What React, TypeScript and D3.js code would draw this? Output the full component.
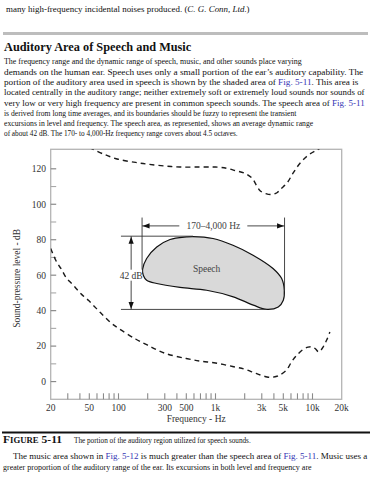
import * as d3 from "d3";

const SERIF = "'Liberation Serif', 'Times New Roman', serif";
const LINK = "#3434b4";

// ---- page text ----
const TOP_LINE = [
  { t: "many high-frequency incidental noises produced. (" },
  { t: "C. G. Conn, Ltd.", italic: true },
  { t: ")" },
];
const HEADING = "Auditory Area of Speech and Music";
const PARA_LINES = [
  [{ t: "The frequency range and the dynamic range of speech, music, and other sounds place varying" }],
  [{ t: "demands on the human ear. Speech uses only a small portion of the ear\u2019s auditory capability. The" }],
  [{ t: "portion of the auditory area used in speech is shown by the shaded area of " }, { t: "Fig. 5-11", link: true }, { t: ". This area is" }],
  [{ t: "located centrally in the auditory range; neither extremely soft or extremely loud sounds nor sounds of" }],
  [{ t: "very low or very high frequency are present in common speech sounds. The speech area of " }, { t: "Fig. 5-11", link: true }],
  [{ t: "is derived from long time averages, and its boundaries should be fuzzy to represent the transient" }],
  [{ t: "excursions in level and frequency. The speech area, as represented, shows an average dynamic range" }],
  [{ t: "of about 42 dB. The 170- to 4,000-Hz frequency range covers about 4.5 octaves." }],
];
const CAPTION_LABEL = [{ t: "F", size: 9.5 }, { t: "IGURE", size: 7.2 }, { t: " 5-11", size: 9.5 }];
const CAPTION_TEXT = "The portion of the auditory region utilized for speech sounds.";
const BOTTOM_LINES = [
  [{ t: "The music area shown in " }, { t: "Fig. 5-12", link: true }, { t: " is much greater than the speech area of " }, { t: "Fig. 5-11", link: true }, { t: ". Music uses a" }],
  [{ t: "greater proportion of the auditory range of the ear. Its excursions in both level and frequency are" }],
];

// ---- chart data ----
const Y_TICKS = [0, 20, 40, 60, 80, 100, 120];
const Y_MINOR = [10, 30, 50, 70, 90, 110];
const X_LABELS: [number, string][] = [
  [20, "20"], [50, "50"], [100, "100"], [300, "300"], [500, "500"],
  [1000, "1k"], [3000, "3k"], [5000, "5k"], [10000, "10k"], [20000, "20k"],
];
const X_TICKS = [30, 40, 50, 60, 70, 80, 90, 100, 200, 300, 400, 500, 600, 700, 800, 900, 1000,
  2000, 3000, 4000, 5000, 6000, 7000, 8000, 9000, 10000];

// threshold of feeling (upper dashed curve), [Hz, dB]
const UPPER_CURVE: [number, number][] = [
  [50, 132], [70, 128.3], [99, 125.4], [150, 123.6], [200, 122.6], [300, 121.6], [430, 121],
  [700, 121], [1000, 121], [1300, 120.3], [1600, 119], [2000, 117.5], [2400, 114.5],
  [2650, 110.5], [2900, 107.5], [3300, 106], [3800, 105.5], [4300, 106.5], [4700, 108.6],
  [5460, 112], [6300, 117.5], [7400, 123], [9000, 127.6], [10900, 130.4], [12500, 132],
];

// threshold of hearing (lower dashed curve), [Hz, dB]
const LOWER_CURVE: [number, number][] = [
  [20, 75], [23, 67.5], [26, 63], [29, 58.5], [34, 54.5], [39, 50.8], [44, 48], [49, 45.8],
  [55, 43], [64, 39.3], [72, 36.5], [85, 32.8], [100, 30], [150, 24], [200, 20.5], [300, 16],
  [500, 13], [700, 11.5], [1000, 10.5], [1500, 8.5], [2000, 7], [2500, 5], [2900, 3.7],
  [3400, 2.6], [3800, 2.4], [4300, 3], [4700, 4], [5400, 6.5], [6100, 11.2], [6900, 14.9],
  [8000, 18.1], [9000, 19.4], [9800, 19.6], [10700, 18.5], [11500, 16.8], [12100, 17.5],
  [12900, 19.6], [14000, 23.4], [15100, 28],
];

// speech area outline, [Hz, dB]
const SPEECH_AREA: [number, number][] = [
  [177, 63.2], [195, 69.4], [248, 75.9], [340, 80.1], [505, 81.6], [586, 81.8], [942, 80.7],
  [1514, 76.9], [2437, 71.3], [3917, 63.8], [4810, 58.1], [5118, 51.5], [5001, 45.9],
  [4437, 42.1], [3371, 40.7], [2454, 43.1], [1525, 47.8], [811, 51.5], [431, 53.1],
  [248, 55.3], [195, 57.2], [180, 60],
];
const SPEECH_FREQ = [175, 5150]; // drawn extent of the "170-4,000 Hz" bracket
const SPEECH_DB = [40.7, 82]; // drawn extent of the "42 dB" bracket
const SPEECH_TOP_HZ = 586;
const SPEECH_BOTTOM_HZ = 3371;
const BRACKET_HZ_ROW = 87.8; // dB level of the horizontal arrow
const BRACKET_DB_COL = 135; // Hz of the vertical arrow
const GUIDE_START_HZ = 106;
const GUIDE_TOP_DB = 92.5;

let ctx: CanvasRenderingContext2D | null = null;
function measure(parts: any[], size: number, weight: string) {
  if (!ctx) ctx = document.createElement("canvas").getContext("2d");
  if (!ctx) return 1;
  let w = 0;
  for (const p of parts) {
    ctx.font = `${p.italic ? "italic " : ""}${weight} ${p.size || size}px 'Liberation Serif'`;
    w += ctx.measureText(p.t).width;
  }
  return w || 1;
}

// a text line squeezed/stretched horizontally to the width it has on the page
function TextLine({ parts, x, y, len, size = 9, weight = "normal" }: any) {
  const sx = len / measure(parts, size, weight);
  return (
    <text transform={`translate(${x},${y}) scale(${sx},1)`} fontFamily={SERIF} fontSize={size}
      fontWeight={weight} fill="#111">
      {parts.map((p: any, i: number) => (
        <tspan key={i} fill={p.link ? LINK : "#111"} fontSize={p.size || size}
          fontStyle={p.italic ? "italic" : "normal"}>{p.t}</tspan>
      ))}
    </text>
  );
}

function arrowHead(px: number, py: number, dir: string) {
  const L = 7, w = 2.6;
  if (dir === "left") return `M${px},${py}L${px + L},${py - w}L${px + L},${py + w}Z`;
  if (dir === "right") return `M${px},${py}L${px - L},${py - w}L${px - L},${py + w}Z`;
  if (dir === "up") return `M${px},${py}L${px - w},${py + L}L${px + w},${py + L}Z`;
  return `M${px},${py}L${px - w},${py - L}L${px + w},${py - L}Z`;
}

export default function App() {
  const plot = { left: 50.7, right: 341.7, top: 149.3, bottom: 399.3 };
  const x = d3.scaleLog().domain([20, 20000]).range([plot.left, plot.right]);
  const y = d3.scaleLinear().domain([-10, 131]).range([plot.bottom, plot.top]);

  const curve = d3.line<[number, number]>()
    .x((d) => x(d[0]))
    .y((d) => y(d[1]))
    .curve(d3.curveCatmullRom.alpha(0.5));
  const blob = d3.line<[number, number]>()
    .x((d) => x(d[0]))
    .y((d) => y(d[1]))
    .curve(d3.curveCatmullRomClosed.alpha(0.5));

  const paraWidths = [298, 360, 355, 361, 361, 293, 310, 234];

  const hx1 = x(SPEECH_FREQ[0]);
  const hx2 = x(SPEECH_FREQ[1]);
  const hy = y(BRACKET_HZ_ROW);
  const vx = x(BRACKET_DB_COL);
  const vy1 = y(SPEECH_DB[1]);
  const vy2 = y(SPEECH_DB[0]);

  return (
    <svg width={370} height={480} style={{ position: "absolute", left: 0, top: 0, background: "#fff" }}>
      <rect width={370} height={480} fill="#fff" />

      {/* page text above the figure */}
      <TextLine parts={TOP_LINE} x={6} y={11.5} len={244} />
      <rect x={3} y={32} width={365} height={3} fill="#bdbdbd" />
      <TextLine parts={[{ t: HEADING }]} x={4} y={50.5} len={188} size={13.5} weight="bold" />
      {PARA_LINES.map((parts, i) => (
        <TextLine key={i} parts={parts} x={4} y={64.3 + i * 10.3} len={paraWidths[i]} />
      ))}

      {/* frame */}
      <rect x={plot.left} y={plot.top} width={plot.right - plot.left} height={plot.bottom - plot.top}
        fill="none" stroke="#b4b4b4" strokeWidth={1.3} />

      {/* y ticks */}
      {Y_TICKS.map((v) => (
        <g key={v}>
          <line x1={plot.left} x2={plot.left + 5.5} y1={y(v)} y2={y(v)} stroke="#8a8a8a" strokeWidth={1.2} />
          <text x={46} y={y(v)} dy="0.35em" textAnchor="end" fontFamily={SERIF} fontSize={9.5} fill="#333">{v}</text>
        </g>
      ))}
      {Y_MINOR.map((v) => (
        <line key={v} x1={plot.left} x2={plot.left + 5.5} y1={y(v)} y2={y(v)} stroke="#a8a8a8" strokeWidth={1.1} />
      ))}

      {/* x ticks */}
      {X_TICKS.map((f) => (
        <line key={f} x1={x(f)} x2={x(f)} y1={plot.bottom} y2={plot.bottom - 6} stroke="#8a8a8a" strokeWidth={1.1} />
      ))}
      {X_LABELS.map(([f, l]) => (
        <text key={l} x={x(f)} y={410.5} textAnchor="middle" fontFamily={SERIF} fontSize={9.5} fill="#333">{l}</text>
      ))}
      <text x={(plot.left + plot.right) / 2} y={421.5} textAnchor="middle" fontFamily={SERIF} fontSize={9.5} fill="#333">
        Frequency - Hz
      </text>
      <text transform={`translate(17,${(plot.top + plot.bottom) / 2 + 4}) rotate(-90)`} dy="0.35em" textAnchor="middle"
        fontFamily={SERIF} fontSize={9.5} fill="#333">
        Sound-pressure level - dB
      </text>

      {/* dashed boundaries */}
      <defs>
        <clipPath id="plotClip">
          <rect x={plot.left} y={plot.top} width={plot.right - plot.left} height={plot.bottom - plot.top} />
        </clipPath>
      </defs>
      <g clipPath="url(#plotClip)">
        <path d={curve(UPPER_CURVE) || ""} fill="none" stroke="#1a1a1a" strokeWidth={1.4} strokeDasharray="5,4" />
        <path d={curve(LOWER_CURVE) || ""} fill="none" stroke="#1a1a1a" strokeWidth={1.4} strokeDasharray="5,4" />
      </g>

      {/* speech area */}
      <path d={blob(SPEECH_AREA) || ""} fill="#d9d9d9" stroke="#111" strokeWidth={1.2} />
      <text x={x(810)} y={y(63.5)} dy="0.35em" textAnchor="middle" fontFamily={SERIF} fontSize={9.5} fill="#444">Speech</text>

      {/* guide lines */}
      <g stroke="#333" strokeWidth={0.9}>
        <line x1={hx1} x2={hx1} y1={y(GUIDE_TOP_DB)} y2={y(63)} />
        <line x1={hx2} x2={hx2} y1={y(GUIDE_TOP_DB)} y2={y(51.5)} />
        <line x1={x(GUIDE_START_HZ)} x2={x(SPEECH_TOP_HZ)} y1={vy1} y2={vy1} />
        <line x1={x(GUIDE_START_HZ)} x2={x(SPEECH_BOTTOM_HZ)} y1={vy2} y2={vy2} />
        <line x1={hx1} x2={hx2} y1={hy} y2={hy} />
        <line x1={vx} x2={vx} y1={vy1} y2={vy2} />
      </g>
      <path d={arrowHead(hx1 + 0.5, hy, "left")} fill="#111" />
      <path d={arrowHead(hx2 - 0.5, hy, "right")} fill="#111" />
      <path d={arrowHead(vx, vy1 + 0.5, "up")} fill="#111" />
      <path d={arrowHead(vx, vy2 - 0.5, "down")} fill="#111" />

      <rect x={(hx1 + hx2) / 2 - 34} y={hy - 5} width={68} height={10} fill="#fff" />
      <text x={(hx1 + hx2) / 2} y={hy} dy="0.35em" textAnchor="middle" fontFamily={SERIF} fontSize={9.5} fill="#444">
        170{"\u2013"}4,000 Hz
      </text>
      <rect x={vx - 11} y={y(60) - 5.5} width={22} height={11} fill="#fff" />
      <text x={vx} y={y(60)} dy="0.35em" textAnchor="middle" fontFamily={SERIF} fontSize={9.5} fill="#333">42 dB</text>

      {/* caption */}
      <rect x={2} y={431.5} width={368} height={2} fill="#111" />
      <TextLine parts={CAPTION_LABEL} x={3} y={443} len={59} weight="bold" />
      <TextLine parts={[{ t: CAPTION_TEXT }]} x={74} y={443} len={177} />

      {/* page text below */}
      <TextLine parts={BOTTOM_LINES[0]} x={13} y={459} len={355} />
      <TextLine parts={BOTTOM_LINES[1]} x={3} y={469.5} len={309} />
    </svg>
  );
}
